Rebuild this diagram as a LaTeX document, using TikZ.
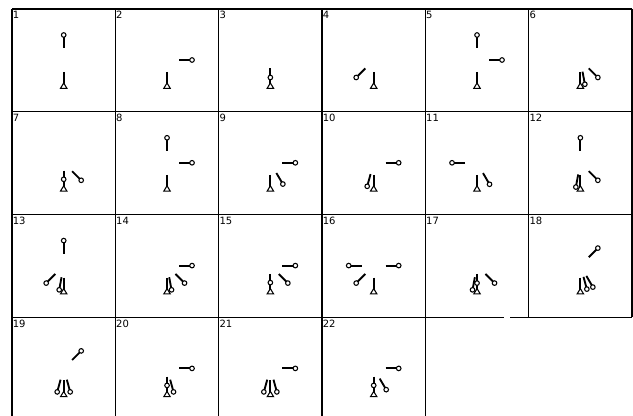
\documentclass[tikz,border=0pt]{standalone}
\usepackage{fontspec}
\newfontfamily\lblfont{DejaVu Sans}
\tikzset{
  gridline/.style={line width=0.8pt, black},
  stick/.style={line width=1.4pt, black, line cap=butt},
  ring/.style={line width=0.8pt, black, fill=white},
  tri/.style={line width=0.8pt, black, fill=white, line join=miter},
  lbl/.style={anchor=base west, inner sep=0pt, font=\lblfont\fontsize{7.5}{8}\selectfont}
}
\newcommand{\cellfig}[4]{%
  \pgfmathsetmacro\ox{12+103.333*(#1)}%
  \pgfmathsetmacro\oy{9+102.8*(#2)}%
  \pgfmathsetmacro\cx{\ox+51.7}%
  \pgfmathsetmacro\cy{\oy+51}%
  \node[lbl] (lab#3) at (\ox+0.6,\oy+10) {#3};
  \foreach \dx/\dy in {#4} {
    \draw[stick] ({\cx+12*(\dx)},{\cy+12*(\dy)}) -- ({\cx+25*(\dx)},{\cy+25*(\dy)});
  }
  \draw[stick] (\cx,\cy+12) -- (\cx,\cy+25);
  \draw[tri] (\cx,\cy+23) -- (\cx-3.2,\cy+28.3) -- (\cx+3.2,\cy+28.3) -- cycle;
  \foreach \dx/\dy in {#4} {
    \draw[ring] ({\cx+25*(\dx)},{\cy+25*(\dy)}) circle[radius=2.3];
  }
}
\begin{document}
\begin{tikzpicture}[x=0.75pt,y=-0.75pt]
\useasboundingbox (0,0) rectangle (633,416);
% grid
\draw[gridline] (12,9) -- (632,9);
\draw[gridline] (12,111.8) -- (632,111.8);
\draw[gridline] (12,214.6) -- (632,214.6);
\draw[gridline] (12,317.4) -- (504,317.4);
\draw[gridline] (510,317.4) -- (632,317.4);
\foreach \x in {12,115.333,218.667,322,425.333} {
  \draw[gridline] (\x,9) -- (\x,416);
}
\foreach \x in {528.667,632} {
  \draw[gridline] (\x,9) -- (\x,317.4);
}
% cells
\cellfig{0}{0}{1}{0/-1}
\cellfig{1}{0}{2}{1/0}
\cellfig{2}{0}{3}{0/0.7}
\cellfig{3}{0}{4}{-0.7/0.7}
\cellfig{4}{0}{5}{0/-1, 1/0}
\cellfig{5}{0}{6}{0.18/0.97, 0.7/0.7}
\cellfig{0}{1}{7}{0/0.66, 0.7/0.7}
\cellfig{1}{1}{8}{0/-1, 1/0}
\cellfig{2}{1}{9}{1/0, 0.5/0.85}
\cellfig{3}{1}{10}{1/0, -0.26/0.94}
\cellfig{4}{1}{11}{-1/0, 0.5/0.86}
\cellfig{5}{1}{12}{0/-1, 0.7/0.7, -0.18/0.97}
\cellfig{0}{2}{13}{0/-1, -0.7/0.7, -0.18/0.97}
\cellfig{1}{2}{14}{1/0, 0.7/0.7, 0.18/0.97}
\cellfig{2}{2}{15}{1/0, 0.7/0.7, 0/0.68}
\cellfig{3}{2}{16}{-1/0, 1/0, -0.7/0.7}
\cellfig{4}{2}{17}{0.7/0.7, 0/0.7, -0.18/0.97}
\cellfig{5}{2}{18}{0.7/-0.7, 0.26/0.94, 0.5/0.86}
\cellfig{0}{3}{19}{0.7/-0.7, -0.26/0.94, 0.26/0.94}
\cellfig{1}{3}{20}{1/0, 0/0.68, 0.26/0.94}
\cellfig{2}{3}{21}{1/0, -0.26/0.94, 0.26/0.94}
\cellfig{3}{3}{22}{1/0, 0/0.68, 0.5/0.85}
\end{tikzpicture}
\end{document}
